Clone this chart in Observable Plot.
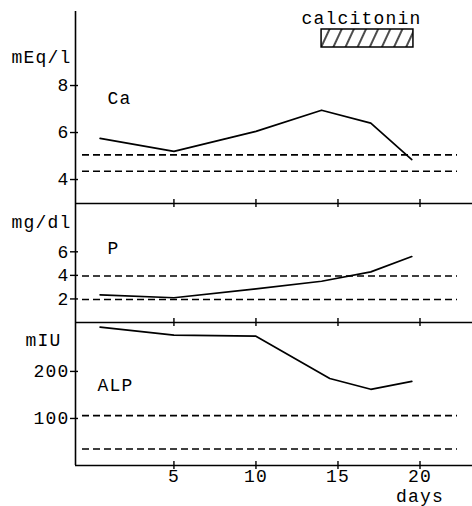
<!DOCTYPE html>
<html><head><meta charset="utf-8">
<script src="https://cdn.jsdelivr.net/npm/d3@7"></script>
<script src="https://cdn.jsdelivr.net/npm/@observablehq/plot@0.6"></script>
<style>
body{margin:0;background:#fff;}
#chart{position:relative;width:472px;height:506px;}
#chart svg{position:absolute;left:0;overflow:visible;background:transparent;}
</style></head><body><div id="chart"></div>
<script>
const days = [0.5, 5, 10, 14, 17, 19.5];
const alpDays = [0.5, 5, 10, 14.5, 17, 19.5];
const ca = [5.75, 5.2, 6.05, 6.95, 6.4, 4.85];
const p = [2.35, 2.1, 2.85, 3.5, 4.3, 5.6];
const alp = [294, 277, 275, 185, 162, 179];
const caNormal = [4.35, 5.05];
const pNormal = [1.95, 3.95];
const alpNormal = [35, 106];
const calcitonin = [14, 19.6];
const dayTicks = [5, 10, 15, 20];
const caTicks = [4, 6, 8];
const pTicks = [2, 4, 6];
const alpTicks = [100, 200];
const units = ["mEq/l", "mg/dl", "mIU"];
const names = ["Ca", "P", "ALP"];

const FONT = "Liberation Mono, DejaVu Sans Mono, monospace";
const FS = 18;
const xDomain = [-1, 23.2];

function panel(o) {
  const pts = o.values.map((v, i) => ({x: o.xs[i], y: v}));
  const svg = Plot.plot({
    width: 472, height: o.height,
    marginLeft: 75, marginRight: 0, marginTop: o.mt, marginBottom: o.mb,
    x: {domain: xDomain, axis: null},
    y: {domain: o.domain, axis: null},
    style: {fontFamily: FONT, fontSize: FS + "px", letterSpacing: "1.2px", background: "transparent", overflow: "visible", color: "black"},
    marks: [
      Plot.ruleY(o.normal, {strokeDasharray: "7,4", strokeWidth: 1.6, insetLeft: 7, insetRight: 15}),
      Plot.ruleX([xDomain[0]], {strokeWidth: 1.6}),
      Plot.ruleY([o.domain[0]], {strokeWidth: 1.6}),
      Plot.ruleY(o.ticks, {x1: xDomain[0], x2: xDomain[0], insetLeft: -5, insetRight: -3, strokeWidth: 1.4}),
      Plot.ruleX(dayTicks, {y1: o.domain[0], y2: o.domain[0], insetTop: -4, insetBottom: -4, strokeWidth: 1.4}),
      Plot.axisY({ticks: o.ticks, tickSize: 0, tickPadding: 6, fontSize: FS, label: null}),
      Plot.line(pts, {x: "x", y: "y", strokeWidth: 1.7}),
      Plot.text([o.unit], {frameAnchor: "top-left", lineAnchor: "middle", textAnchor: "end", dx: o.udx, dy: o.udy, fontSize: FS}),
      Plot.text([o.name], {frameAnchor: "top-left", lineAnchor: "middle", textAnchor: "start", dx: o.ndx, dy: o.ndy, fontSize: FS}),
      ...(o.extra || [])
    ]
  });
  svg.style.top = o.top + "px";
  document.getElementById("chart").appendChild(svg);
  return svg;
}

const s1 = panel({
  values: ca, xs: days, normal: caNormal, ticks: caTicks, domain: [2.98, 11.15],
  unit: units[0], name: names[0], top: 0, height: 210, mt: 11, mb: 7,
  udx: -4, udy: 46, ndx: 32, ndy: 87,
  extra: [
    Plot.rect([calcitonin], {x1: d => d[0], x2: d => d[1], insetTop: 18, insetBottom: 156, fill: "url(#hatch)", stroke: "black", strokeWidth: 1.5}),
    Plot.text(["calcitonin"], {x: () => (calcitonin[0] + calcitonin[1]) / 2, frameAnchor: "top", lineAnchor: "middle", dy: 7, dx: -6, fontSize: FS})
  ]
});
const defs = document.createElementNS("http://www.w3.org/2000/svg", "defs");
defs.innerHTML = '<pattern id="hatch" patternUnits="userSpaceOnUse" width="11" height="11" patternTransform="rotate(25)"><line x1="3" y1="-2" x2="3" y2="13" stroke="black" stroke-width="1.4"/></pattern>';
s1.insertBefore(defs, s1.firstChild);

panel({
  values: p, xs: days, normal: pNormal, ticks: pTicks, domain: [0, 10.1],
  unit: units[1], name: names[1], top: 196, height: 133, mt: 7, mb: 7,
  udx: -4, udy: 19, ndx: 32, ndy: 45
});

panel({
  values: alp, xs: alpDays, normal: alpNormal, ticks: alpTicks, domain: [0, 304],
  unit: units[2], name: names[2], top: 315, height: 191, mt: 7, mb: 41,
  udx: -14, udy: 18, ndx: 22, ndy: 63,
  extra: [
    Plot.axisX({ticks: dayTicks, tickSize: 0, tickPadding: 4, fontSize: FS, label: null}),
    Plot.text(["days"], {x: dayTicks[dayTicks.length - 1], frameAnchor: "bottom", lineAnchor: "middle", dy: 31, fontSize: FS})
  ]
});
</script></body></html>
